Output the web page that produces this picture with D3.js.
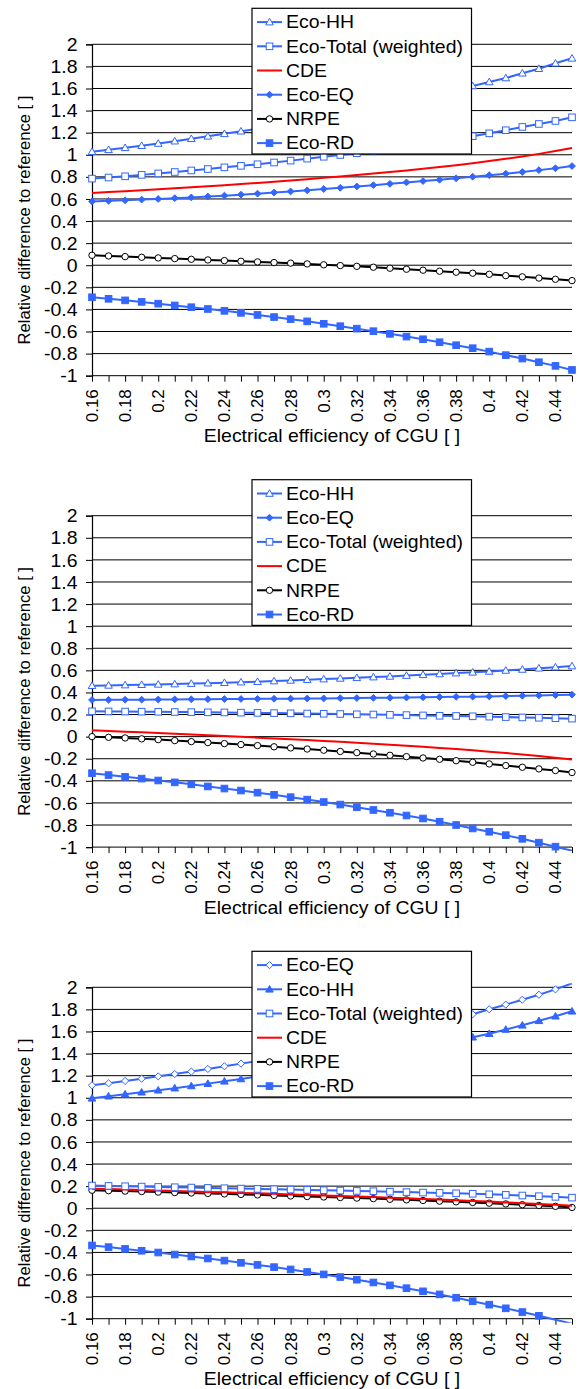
<!DOCTYPE html>
<html>
<head>
<meta charset="utf-8">
<script src="https://cdn.jsdelivr.net/npm/d3@7"></script>
<style>
  html, body { margin: 0; padding: 0; background: #fff; }
  svg { display: block; }
</style>
</head>
<body>
<svg id="chart" width="581" height="1389"></svg>
<script>
// Electrical efficiency of the CGU (x values of every series)
const efficiency = [0.16,0.17,0.18,0.19,0.20,0.21,0.22,0.23,0.24,0.25,0.26,0.27,0.28,0.29,0.30,
                    0.31,0.32,0.33,0.34,0.35,0.36,0.37,0.38,0.39,0.40,0.41,0.42,0.43,0.44,0.45];
const xTickValues = [0.16,0.18,0.20,0.22,0.24,0.26,0.28,0.30,0.32,0.34,0.36,0.38,0.40,0.42,0.44];
const xTickLabels = ["0.16","0.18","0.2","0.22","0.24","0.26","0.28","0.3","0.32","0.34","0.36","0.38","0.4","0.42","0.44"];
const yTickValues = [-1,-0.8,-0.6,-0.4,-0.2,0,0.2,0.4,0.6,0.8,1,1.2,1.4,1.6,1.8,2];
const yTickLabels = ["-1","-0.8","-0.6","-0.4","-0.2","0","0.2","0.4","0.6","0.8","1","1.2","1.4","1.6","1.8","2"];

// Panel 1
const p1EcoHH    = [1.028,1.045,1.063,1.082,1.102,1.123,1.145,1.167,1.190,1.213,1.236,1.259,1.283,1.308,1.334,1.361,1.389,1.418,1.448,1.479,1.512,1.546,1.583,1.623,1.659,1.695,1.738,1.779,1.828,1.873];
const p1EcoTotal = [0.784,0.794,0.805,0.818,0.831,0.844,0.858,0.871,0.886,0.900,0.914,0.930,0.947,0.965,0.982,0.998,1.014,1.032,1.051,1.071,1.092,1.115,1.141,1.168,1.194,1.222,1.252,1.279,1.306,1.339];
const p1CDE      = [0.654,0.662,0.670,0.679,0.688,0.697,0.706,0.715,0.725,0.735,0.745,0.756,0.767,0.779,0.791,0.803,0.816,0.830,0.844,0.858,0.873,0.889,0.906,0.923,0.943,0.963,0.985,1.008,1.034,1.062];
const p1EcoEQ    = [0.578,0.583,0.588,0.594,0.600,0.607,0.614,0.622,0.630,0.639,0.648,0.658,0.668,0.678,0.690,0.701,0.713,0.725,0.737,0.750,0.762,0.774,0.787,0.801,0.815,0.829,0.844,0.861,0.878,0.898];
const p1NRPE     = [0.090,0.084,0.078,0.072,0.066,0.060,0.054,0.048,0.042,0.036,0.030,0.024,0.019,0.012,0.004,-0.003,-0.010,-0.018,-0.027,-0.036,-0.045,-0.054,-0.063,-0.072,-0.082,-0.094,-0.105,-0.116,-0.127,-0.139];
const p1EcoRD    = [-0.290,-0.304,-0.318,-0.332,-0.348,-0.364,-0.380,-0.396,-0.413,-0.431,-0.450,-0.469,-0.488,-0.508,-0.530,-0.552,-0.574,-0.597,-0.621,-0.646,-0.670,-0.697,-0.724,-0.751,-0.782,-0.814,-0.845,-0.878,-0.911,-0.948];

// Panel 2
const p2EcoHH    = [0.461,0.464,0.467,0.470,0.473,0.476,0.480,0.484,0.488,0.493,0.497,0.503,0.509,0.515,0.521,0.527,0.533,0.539,0.545,0.553,0.560,0.567,0.575,0.582,0.590,0.599,0.608,0.619,0.629,0.639];
const p2EcoEQ    = [0.332,0.333,0.334,0.335,0.336,0.337,0.338,0.339,0.340,0.341,0.342,0.343,0.344,0.345,0.346,0.348,0.349,0.351,0.352,0.354,0.356,0.358,0.360,0.362,0.364,0.367,0.370,0.373,0.376,0.380];
const p2EcoTotal = [0.229,0.228,0.227,0.226,0.225,0.223,0.222,0.220,0.219,0.217,0.215,0.213,0.211,0.209,0.207,0.205,0.202,0.200,0.197,0.195,0.192,0.189,0.187,0.184,0.181,0.177,0.174,0.171,0.167,0.163];
const p2CDE      = [0.057,0.051,0.045,0.039,0.033,0.026,0.019,0.012,0.005,-0.002,-0.009,-0.016,-0.023,-0.031,-0.039,-0.047,-0.055,-0.064,-0.073,-0.082,-0.092,-0.102,-0.113,-0.124,-0.136,-0.148,-0.161,-0.175,-0.191,-0.208];
const p2NRPE     = [0.000,-0.006,-0.012,-0.020,-0.027,-0.036,-0.045,-0.054,-0.063,-0.072,-0.081,-0.092,-0.102,-0.112,-0.123,-0.134,-0.145,-0.157,-0.169,-0.181,-0.193,-0.205,-0.218,-0.232,-0.247,-0.262,-0.277,-0.292,-0.307,-0.325];
const p2EcoRD    = [-0.331,-0.348,-0.364,-0.380,-0.397,-0.414,-0.432,-0.451,-0.470,-0.488,-0.507,-0.527,-0.548,-0.570,-0.592,-0.615,-0.639,-0.664,-0.689,-0.714,-0.741,-0.770,-0.800,-0.831,-0.861,-0.892,-0.925,-0.960,-0.996,-1.032];

// Panel 3
const p3EcoEQ    = [1.113,1.131,1.152,1.173,1.194,1.215,1.237,1.261,1.285,1.309,1.333,1.358,1.384,1.411,1.439,1.468,1.498,1.529,1.562,1.596,1.632,1.670,1.711,1.756,1.801,1.843,1.888,1.933,1.981,2.036];
const p3EcoHH    = [0.995,1.014,1.032,1.050,1.068,1.087,1.107,1.128,1.149,1.170,1.192,1.214,1.237,1.260,1.284,1.309,1.335,1.362,1.390,1.419,1.449,1.480,1.513,1.548,1.580,1.618,1.656,1.697,1.738,1.783];
const p3EcoTotal = [0.205,0.202,0.199,0.196,0.193,0.190,0.187,0.184,0.181,0.178,0.175,0.172,0.169,0.166,0.163,0.160,0.157,0.154,0.150,0.146,0.142,0.139,0.135,0.131,0.126,0.121,0.115,0.109,0.103,0.096];
const p3CDE      = [0.177,0.173,0.169,0.165,0.160,0.156,0.152,0.148,0.144,0.139,0.135,0.130,0.125,0.120,0.116,0.111,0.106,0.101,0.095,0.090,0.084,0.078,0.072,0.066,0.060,0.053,0.046,0.039,0.031,0.022];
const p3NRPE     = [0.163,0.159,0.155,0.151,0.146,0.142,0.138,0.134,0.130,0.125,0.121,0.116,0.111,0.106,0.102,0.097,0.092,0.087,0.081,0.076,0.070,0.064,0.058,0.052,0.046,0.039,0.032,0.025,0.017,0.007];
const p3EcoRD    = [-0.337,-0.352,-0.368,-0.385,-0.401,-0.419,-0.437,-0.455,-0.474,-0.494,-0.513,-0.533,-0.554,-0.577,-0.599,-0.623,-0.647,-0.672,-0.698,-0.724,-0.752,-0.780,-0.810,-0.842,-0.873,-0.906,-0.940,-0.974,-1.009,-1.045];

// ---- series styles ----
const BLUE = "#3366ff";
const styles = {
  triOpen:    { stroke: BLUE, marker: "triangle", fill: "#fff" },
  triFilled:  { stroke: BLUE, marker: "triangle", fill: BLUE },
  sqOpen:     { stroke: BLUE, marker: "square", fill: "#fff" },
  sqFilled:   { stroke: BLUE, marker: "square", fill: BLUE },
  diaFilled:  { stroke: BLUE, marker: "diamond", fill: BLUE },
  diaOpen:    { stroke: BLUE, marker: "diamond", fill: "#fff" },
  red:        { stroke: "#ff0000", marker: null },
  circle:     { stroke: "#000", marker: "circle", fill: "#fff" }
};

// legend order per panel (drawing goes bottom-up)
const panels = [
  { series: [
    { name: "Eco-HH", values: p1EcoHH, style: "triOpen" },
    { name: "Eco-Total (weighted)", values: p1EcoTotal, style: "sqOpen" },
    { name: "CDE", values: p1CDE, style: "red" },
    { name: "Eco-EQ", values: p1EcoEQ, style: "diaFilled" },
    { name: "NRPE", values: p1NRPE, style: "circle" },
    { name: "Eco-RD", values: p1EcoRD, style: "sqFilled" }
  ]},
  { series: [
    { name: "Eco-HH", values: p2EcoHH, style: "triOpen" },
    { name: "Eco-EQ", values: p2EcoEQ, style: "diaFilled" },
    { name: "Eco-Total (weighted)", values: p2EcoTotal, style: "sqOpen" },
    { name: "CDE", values: p2CDE, style: "red" },
    { name: "NRPE", values: p2NRPE, style: "circle" },
    { name: "Eco-RD", values: p2EcoRD, style: "sqFilled" }
  ]},
  { series: [
    { name: "Eco-EQ", values: p3EcoEQ, style: "diaOpen" },
    { name: "Eco-HH", values: p3EcoHH, style: "triFilled" },
    { name: "Eco-Total (weighted)", values: p3EcoTotal, style: "sqOpen" },
    { name: "CDE", values: p3CDE, style: "red" },
    { name: "NRPE", values: p3NRPE, style: "circle" },
    { name: "Eco-RD", values: p3EcoRD, style: "sqFilled" }
  ]}
];

// ---- layout ----
const FONT = "'Liberation Sans', Arial, Helvetica, sans-serif";
const FS = 17.5;
const SX = 1.11;               // horizontal text stretch
const plotLeft = 92, plotRight = 572;
const panelTops = [44.3, 515.7, 987.3];
const plotH = 331.4;

const svg = d3.select("#chart");
svg.append("rect").attr("width", 581).attr("height", 1389).attr("fill", "#fff");

const x = d3.scaleLinear().domain([0.16, 0.45]).range([plotLeft, plotRight]);

function hText(g, px, py, str, anchor) {
  const t = g.append("g").attr("transform", `translate(${px},${py}) scale(${SX},1)`);
  return t.append("text")
    .attr("x", 0).attr("y", 0)
    .attr("text-anchor", anchor || "start")
    .attr("font-family", FONT).attr("font-size", FS).attr("fill", "#000")
    .text(str);
}

function drawMarker(g, cx, cy, st) {
  const s = 3.3;
  if (st.marker === "circle") {
    g.append("circle").attr("cx", cx).attr("cy", cy).attr("r", 3.2)
      .attr("fill", st.fill).attr("stroke", st.stroke).attr("stroke-width", 1);
  } else if (st.marker === "square") {
    g.append("rect").attr("x", cx - s).attr("y", cy - s).attr("width", 2 * s).attr("height", 2 * s)
      .attr("fill", st.fill).attr("stroke", st.stroke).attr("stroke-width", 1);
  } else if (st.marker === "triangle") {
    g.append("path").attr("d", `M${cx},${cy - 3.8}L${cx + 3.8},${cy + 2.8}L${cx - 3.8},${cy + 2.8}Z`)
      .attr("fill", st.fill).attr("stroke", st.stroke).attr("stroke-width", 1);
  } else if (st.marker === "diamond") {
    const d = st.fill === "#fff" ? 3.6 : 3.4;
    g.append("path").attr("d", `M${cx},${cy - d}L${cx + d},${cy}L${cx},${cy + d}L${cx - d},${cy}Z`)
      .attr("fill", st.fill).attr("stroke", st.stroke).attr("stroke-width", 1);
  }
}

panels.forEach((panel, pi) => {
  const top = panelTops[pi];
  const bottom = top + plotH;
  const y = d3.scaleLinear().domain([-1, 2]).range([bottom, top]);
  const g = svg.append("g");

  // horizontal gridlines
  g.selectAll("line.grid").data(yTickValues).enter().append("line")
    .attr("x1", plotLeft).attr("x2", plotRight)
    .attr("y1", d => y(d)).attr("y2", d => y(d))
    .attr("stroke", "#000").attr("stroke-width", 1);

  // y axis with labels
  const yAxis = d3.axisLeft(y).tickValues(yTickValues)
    .tickFormat((d, i) => yTickLabels[i]).tickSize(6).tickPadding(9);
  const ya = g.append("g").attr("transform", `translate(${plotLeft},0)`).call(yAxis);
  ya.select(".domain").attr("stroke", "#000").attr("stroke-width", 1.2);
  ya.selectAll(".tick line").attr("stroke", "#000");
  ya.selectAll(".tick text").each(function () {
    const t = d3.select(this);
    t.attr("font-family", FONT).attr("font-size", FS).attr("fill", "#000")
      .attr("x", null).attr("dy", "0.35em")
      .attr("transform", `translate(-14.5,0) scale(${SX},1)`);
  });

  // x axis: minor ticks every 0.01, labels every 0.02
  const xAxis = d3.axisBottom(x).tickValues(efficiency).tickFormat(() => "").tickSize(6);
  const xa = g.append("g").attr("transform", `translate(0,${bottom})`).call(xAxis);
  xa.select(".domain").remove();
  xa.selectAll(".tick line").attr("stroke", "#000");

  g.selectAll("text.xlab").data(xTickValues).enter().append("text")
    .attr("transform", d => `translate(${x(d)},${bottom + 13.5}) rotate(-90)`)
    .attr("text-anchor", "end").attr("dy", "0.35em")
    .attr("font-family", FONT).attr("font-size", 17).attr("fill", "#000")
    .text((d, i) => xTickLabels[i]);

  // axis titles
  hText(g, (plotLeft + plotRight) / 2, bottom + 66.5, "Electrical efficiency of CGU [ ]", "middle");
  g.append("text")
    .attr("transform", `translate(30,${(top + bottom) / 2 + 10}) rotate(-90)`)
    .attr("text-anchor", "middle")
    .attr("font-family", FONT).attr("font-size", 16.6).attr("fill", "#000")
    .text("Relative difference to reference [ ]");

  // clip for series
  const clipId = "clip" + pi;
  svg.append("clipPath").attr("id", clipId).append("rect")
    .attr("x", plotLeft - 4).attr("y", top - 4).attr("width", plotRight - plotLeft + 8).attr("height", plotH + 8);

  const sg = g.append("g").attr("clip-path", `url(#${clipId})`);
  const line = d3.line().x((d, i) => x(efficiency[i])).y(d => y(d));

  // draw bottom legend entries first so the top entries end on top
  panel.series.slice().reverse().forEach(s => {
    const st = styles[s.style];
    const sgg = sg.append("g");
    sgg.append("path").attr("d", line(s.values))
      .attr("fill", "none").attr("stroke", st.stroke)
      .attr("stroke-width", 2).attr("stroke-linejoin", "round");
    if (st.marker) {
      s.values.forEach((v, i) => {
        if (v >= -1.0001 && v <= 2.0001) drawMarker(sgg, x(efficiency[i]), y(v), st);
      });
    }
  });

  // legend
  const lx = 252, ly = top - 36, lw = 219.5, lh = 145.7;
  const lg = g.append("g");
  lg.append("rect").attr("x", lx).attr("y", ly).attr("width", lw).attr("height", lh)
    .attr("fill", "#fff").attr("stroke", "#000").attr("stroke-width", 1.2);
  panel.series.forEach((s, i) => {
    const st = styles[s.style];
    const ry = ly + 13.8 + i * 24.2;
    lg.append("line").attr("x1", lx + 5).attr("x2", lx + 30).attr("y1", ry).attr("y2", ry)
      .attr("stroke", st.stroke).attr("stroke-width", 2);
    if (st.marker) drawMarker(lg, lx + 17.5, ry, st);
    hText(lg, lx + 34, ry, s.name, "start").attr("dy", "0.36em");
  });
});
</script>
</body>
</html>
